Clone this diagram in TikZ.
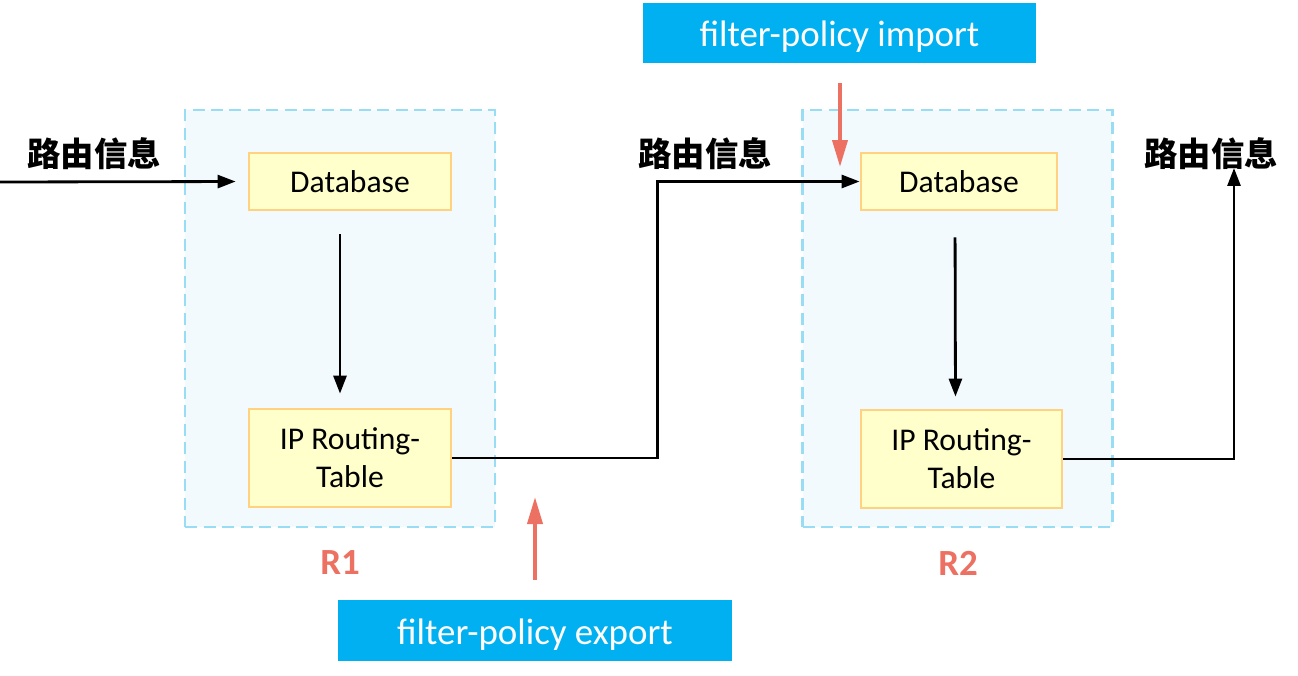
\documentclass[tikz,border=0pt]{standalone}
\usepackage{fontspec}
\setmainfont{Carlito}
\newfontfamily\cjk{Noto Sans CJK SC}
\usetikzlibrary{arrows.meta}

\definecolor{routerline}{HTML}{99DDF5}
\definecolor{routerfill}{HTML}{F3FAFE}
\definecolor{tableline}{HTML}{FFD27F}
\definecolor{tablefill}{HTML}{FFFFCC}
\definecolor{policyblue}{HTML}{00B0F0}
\definecolor{policyred}{HTML}{EC7163}

\tikzset{
  routerbox/.style={draw=routerline, fill=routerfill, line width=1.5pt,
    dash pattern=on 0.24cm off 0.13cm, minimum width=6.2cm, minimum height=8.34cm},
  tablebox/.style={draw=tableline, fill=tablefill, line width=1.6pt, align=center,
    font=\fontsize{18}{21.6}\selectfont, inner sep=0pt},
  policybox/.style={fill=policyblue, text=white, minimum width=7.88cm,
    minimum height=1.22cm, text height=0.66cm, text depth=0.1cm,
    font=\fontsize{21}{25}\selectfont},
  infolabel/.style={font=\cjk\bfseries\fontsize{19}{23}\selectfont},
  routerlabel/.style={text=policyred, font=\bfseries\fontsize{21}{25}\selectfont},
  flow/.style={line width=1.6pt, -{Triangle[length=0.36cm,width=0.26cm]}},
  policy/.style={draw=policyred, line width=2.2pt,
    -{Triangle[length=0.54cm,width=0.3cm]}}
}

\begin{document}
\begin{tikzpicture}[x=0.02cm, y=-0.02cm]
    \useasboundingbox (0,0) rectangle (1298,676);

    % routers
    \node[routerbox] (r1) at (340,318.5) {};
    \node[routerbox] (r2) at (957.5,318.5) {};
    \node[routerlabel] (r1name) at (340,563) {R1};
    \node[routerlabel] (r2name) at (958,563) {R2};

    % databases and routing tables
    \node[tablebox, minimum width=4.04cm, minimum height=1.14cm] (db1) at (350,181.5) {Database};
    \node[tablebox, minimum width=4.04cm, minimum height=1.96cm] (rt1) at (350,458) {IP Routing-\\Table};
    \node[tablebox, minimum width=3.92cm, minimum height=1.14cm] (db2) at (959,181.5) {Database};
    \node[tablebox, minimum width=4.02cm, minimum height=1.96cm] (rt2) at (961.5,459) {IP Routing-\\Table};

    % route information labels
    \node[infolabel] (info1) at (94,154) {路由信息};
    \node[infolabel] (info2) at (705,154) {路由信息};
    \node[infolabel] (info3) at (1211,154) {路由信息};

    % policies
    \node[policybox] (imp) at (839.5,33) {filter-policy import};
    \node[policybox] (exp) at (535,630.5) {filter-policy export};

    \coordinate (in) at (0,182);
    \coordinate (out) at (1234,168);
    \coordinate (impTip) at (840,167);
    \coordinate (expTip) at (535,497);

    % routing flow
    \draw[flow, shorten >=0.24cm] (in) -- (db1.west);
    \draw[flow, shorten <=0.46cm, shorten >=0.28cm] ([xshift=-0.2cm]db1.south) -- ([xshift=-0.2cm]rt1.north);
    \draw[flow] (rt1.east) -- ++(205,0) |- (db2.west);
    \draw[flow, shorten <=0.52cm, shorten >=0.24cm] ([xshift=-0.08cm]db2.south) -- ([xshift=-0.12cm]rt2.north);
    \draw[flow] (rt2.east) -| (out);

    % policy arrows
    \draw[policy, shorten <=0.38cm] (imp.south -| impTip) -- (impTip);
    \draw[policy, shorten <=0.4cm] (exp.north) -- (expTip);

\end{tikzpicture}
\end{document}
